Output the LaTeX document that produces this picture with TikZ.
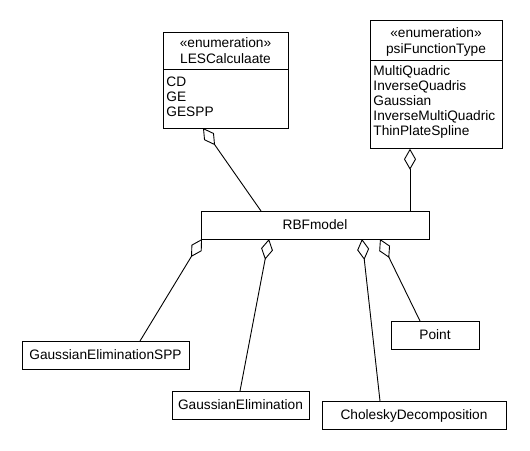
\documentclass[tikz,border=0pt]{standalone}
\usepackage{fontspec}
\setmainfont{Liberation Sans}
\usetikzlibrary{arrows.meta}
\begin{document}
\begin{tikzpicture}[x=1pt,y=-1pt, line width=0.9pt,
  box/.style={draw, rectangle, inner sep=0pt, outer sep=0pt},
  lbl/.style={inner sep=0pt, font=\fontsize{13.7}{14}\selectfont, text height=9.8pt, text depth=0pt},
  agg/.style={{Diamond[open,length=21pt,width=12pt]}-}]
\useasboundingbox (0,0) rectangle (530,450);
% enumeration LESCalculaate
\node[box, minimum width=125pt, minimum height=96pt] (les) at (225.5,80) {};
\node[lbl, anchor=base] (lesst) at (225.5,47.5) {«enumeration»};
\node[lbl, anchor=base] (lesname) at (225.5,63) {LESCalculaate};
\draw (163,69) -- (288,69);
\node[lbl, anchor=base west] (lescd) at (166,86.7) {CD};
\node[lbl, anchor=base west] (lesge) at (166,101.7) {GE};
\node[lbl, anchor=base west] (lesgespp) at (166,116.7) {GESPP};
% enumeration psiFunctionType
\node[box, minimum width=132pt, minimum height=128pt] (psi) at (436,84.7) {};
\node[lbl, anchor=base] (psist) at (436,37.5) {«enumeration»};
\node[lbl, anchor=base] (psiname) at (436,53) {psiFunctionType};
\draw (370,60.5) -- (502,60.5);
\node[lbl, anchor=base west] (psi1) at (373,75.5) {MultiQuadric};
\node[lbl, anchor=base west] (psi2) at (373,90.4) {InverseQuadris};
\node[lbl, anchor=base west] (psi3) at (373,105.3) {Gaussian};
\node[lbl, anchor=base west] (psi4) at (373,120.2) {InverseMultiQuadric};
\node[lbl, anchor=base west] (psi5) at (373,135.1) {ThinPlateSpline};
% classes
\node[box, lbl, minimum width=228pt, minimum height=28pt] (rbf) at (315,225) {RBFmodel};
\node[box, lbl, minimum width=167pt, minimum height=28pt] (gespp) at (105.5,355) {GaussianEliminationSPP};
\node[box, lbl, minimum width=137pt, minimum height=28pt] (ge) at (240.5,405) {GaussianElimination};
\node[box, lbl, minimum width=184pt, minimum height=28pt] (chol) at (414,415) {CholeskyDecomposition};
\node[box, lbl, minimum width=88pt, minimum height=28pt] (point) at (435,335) {Point};
% aggregations
\draw[agg] ([xshift=40pt]les.south west) -- ([xshift=60pt]rbf.north west);
\draw[agg] ([xshift=40pt]psi.south west) -- ([xshift=209pt]rbf.north west);
\draw[agg] ([xshift=1pt]rbf.south west) -- ([xshift=118pt]gespp.north west);
\draw[agg] ([xshift=68pt]rbf.south west) -- ([xshift=68pt]ge.north west);
\draw[agg] ([xshift=161pt]rbf.south west) -- ([xshift=58pt]chol.north west);
\draw[agg] ([xshift=179pt]rbf.south west) -- ([xshift=29pt]point.north west);
\end{tikzpicture}
\end{document}
